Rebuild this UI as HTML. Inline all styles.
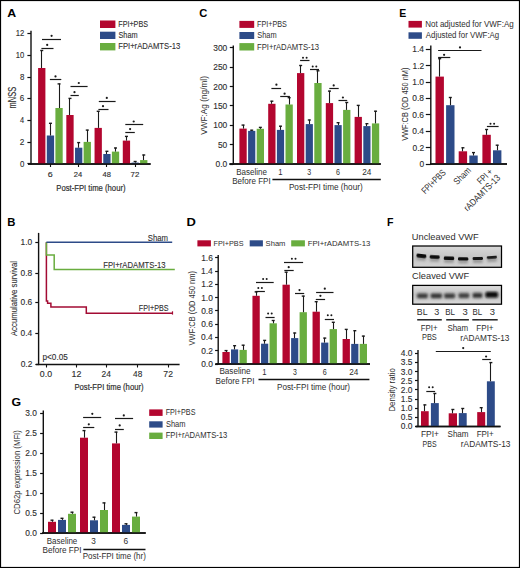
<!DOCTYPE html>
<html><head><meta charset="utf-8"><style>
html,body{margin:0;padding:0;background:#fff;}
svg{display:block;}
text{font-family:"Liberation Sans",sans-serif;}
</style></head><body>
<svg width="520" height="568" viewBox="0 0 520 568">
<rect x="0" y="0" width="520" height="568" fill="#fff"/>
<rect x="0.5" y="0.5" width="519" height="567" fill="none" stroke="#000" stroke-width="1.2"/>
<text x="7.18" y="16.80" font-size="11.0" font-weight="bold" fill="#000" textLength="8.90" lengthAdjust="spacingAndGlyphs">A</text>
<line x1="31.00" y1="30.70" x2="31.00" y2="164.60" stroke="#111111" stroke-width="1.4"/>
<line x1="27.40" y1="163.50" x2="31.00" y2="163.50" stroke="#111111" stroke-width="1.2"/>
<text x="19.88" y="166.50" font-size="8.6" stroke="#2e2e2e" stroke-width="0.12" fill="#2e2e2e" textLength="4.38" lengthAdjust="spacingAndGlyphs">0</text>
<line x1="27.40" y1="142.50" x2="31.00" y2="142.50" stroke="#111111" stroke-width="1.2"/>
<text x="19.76" y="144.80" font-size="8.6" stroke="#2e2e2e" stroke-width="0.12" fill="#2e2e2e" textLength="4.60" lengthAdjust="spacingAndGlyphs">2</text>
<line x1="27.40" y1="120.50" x2="31.00" y2="120.50" stroke="#111111" stroke-width="1.2"/>
<text x="20.06" y="123.10" font-size="8.6" stroke="#2e2e2e" stroke-width="0.12" fill="#2e2e2e" textLength="4.09" lengthAdjust="spacingAndGlyphs">4</text>
<line x1="27.40" y1="98.50" x2="31.00" y2="98.50" stroke="#111111" stroke-width="1.2"/>
<text x="19.77" y="101.40" font-size="8.6" stroke="#2e2e2e" stroke-width="0.12" fill="#2e2e2e" textLength="4.49" lengthAdjust="spacingAndGlyphs">6</text>
<line x1="27.40" y1="77.50" x2="31.00" y2="77.50" stroke="#111111" stroke-width="1.2"/>
<text x="19.88" y="79.70" font-size="8.6" stroke="#2e2e2e" stroke-width="0.12" fill="#2e2e2e" textLength="4.38" lengthAdjust="spacingAndGlyphs">8</text>
<line x1="27.40" y1="55.50" x2="31.00" y2="55.50" stroke="#111111" stroke-width="1.2"/>
<text x="15.77" y="58.00" font-size="8.6" stroke="#2e2e2e" stroke-width="0.12" fill="#2e2e2e" textLength="8.48" lengthAdjust="spacingAndGlyphs">10</text>
<line x1="27.40" y1="33.50" x2="31.00" y2="33.50" stroke="#111111" stroke-width="1.2"/>
<text x="15.76" y="36.30" font-size="8.6" stroke="#2e2e2e" stroke-width="0.12" fill="#2e2e2e" textLength="8.58" lengthAdjust="spacingAndGlyphs">12</text>
<line x1="28.00" y1="164.00" x2="150.60" y2="164.00" stroke="#111111" stroke-width="1.4"/>
<line x1="50.50" y1="164.00" x2="50.50" y2="167.00" stroke="#111111" stroke-width="1.1"/>
<line x1="78.50" y1="164.00" x2="78.50" y2="167.00" stroke="#111111" stroke-width="1.1"/>
<line x1="106.50" y1="164.00" x2="106.50" y2="167.00" stroke="#111111" stroke-width="1.1"/>
<line x1="135.50" y1="164.00" x2="135.50" y2="167.00" stroke="#111111" stroke-width="1.1"/>
<rect x="38.10" y="68.00" width="7.30" height="96.00" fill="#b3062f"/>
<line x1="41.50" y1="68.00" x2="41.50" y2="50.20" stroke="#1a1a1a" stroke-width="1.1"/>
<line x1="40.25" y1="50.50" x2="43.25" y2="50.50" stroke="#1a1a1a" stroke-width="1.4"/>
<rect x="46.80" y="135.50" width="7.30" height="28.50" fill="#2d4b88"/>
<line x1="50.50" y1="135.50" x2="50.50" y2="123.00" stroke="#1a1a1a" stroke-width="1.1"/>
<line x1="48.95" y1="123.30" x2="51.95" y2="123.30" stroke="#1a1a1a" stroke-width="1.4"/>
<rect x="55.40" y="108.00" width="7.30" height="56.00" fill="#69ad3f"/>
<line x1="59.50" y1="108.00" x2="59.50" y2="83.60" stroke="#1a1a1a" stroke-width="1.1"/>
<line x1="57.55" y1="83.90" x2="60.55" y2="83.90" stroke="#1a1a1a" stroke-width="1.4"/>
<rect x="66.33" y="115.00" width="7.30" height="49.00" fill="#b3062f"/>
<line x1="69.50" y1="115.00" x2="69.50" y2="98.10" stroke="#1a1a1a" stroke-width="1.1"/>
<line x1="68.48" y1="98.40" x2="71.48" y2="98.40" stroke="#1a1a1a" stroke-width="1.4"/>
<rect x="75.03" y="147.70" width="7.30" height="16.30" fill="#2d4b88"/>
<line x1="78.50" y1="147.70" x2="78.50" y2="142.30" stroke="#1a1a1a" stroke-width="1.1"/>
<line x1="77.18" y1="142.60" x2="80.18" y2="142.60" stroke="#1a1a1a" stroke-width="1.4"/>
<rect x="83.63" y="141.90" width="7.30" height="22.10" fill="#69ad3f"/>
<line x1="87.50" y1="141.90" x2="87.50" y2="129.80" stroke="#1a1a1a" stroke-width="1.1"/>
<line x1="85.78" y1="130.10" x2="88.78" y2="130.10" stroke="#1a1a1a" stroke-width="1.4"/>
<rect x="94.56" y="127.90" width="7.30" height="36.10" fill="#b3062f"/>
<line x1="98.50" y1="127.90" x2="98.50" y2="111.00" stroke="#1a1a1a" stroke-width="1.1"/>
<line x1="96.71" y1="111.30" x2="99.71" y2="111.30" stroke="#1a1a1a" stroke-width="1.4"/>
<rect x="103.26" y="154.00" width="7.30" height="10.00" fill="#2d4b88"/>
<line x1="106.50" y1="154.00" x2="106.50" y2="151.00" stroke="#1a1a1a" stroke-width="1.1"/>
<line x1="105.41" y1="151.30" x2="108.41" y2="151.30" stroke="#1a1a1a" stroke-width="1.4"/>
<rect x="111.86" y="151.60" width="7.30" height="12.40" fill="#69ad3f"/>
<line x1="115.50" y1="151.60" x2="115.50" y2="147.70" stroke="#1a1a1a" stroke-width="1.1"/>
<line x1="114.01" y1="148.00" x2="117.01" y2="148.00" stroke="#1a1a1a" stroke-width="1.4"/>
<rect x="122.79" y="140.60" width="7.30" height="23.40" fill="#b3062f"/>
<line x1="126.50" y1="140.60" x2="126.50" y2="136.10" stroke="#1a1a1a" stroke-width="1.1"/>
<line x1="124.94" y1="136.40" x2="127.94" y2="136.40" stroke="#1a1a1a" stroke-width="1.4"/>
<rect x="131.49" y="162.60" width="7.30" height="1.40" fill="#2d4b88"/>
<line x1="135.50" y1="162.60" x2="135.50" y2="161.20" stroke="#1a1a1a" stroke-width="1.1"/>
<line x1="133.64" y1="161.50" x2="136.64" y2="161.50" stroke="#1a1a1a" stroke-width="1.4"/>
<rect x="140.09" y="160.10" width="7.30" height="3.90" fill="#69ad3f"/>
<line x1="143.50" y1="160.10" x2="143.50" y2="154.70" stroke="#1a1a1a" stroke-width="1.1"/>
<line x1="142.24" y1="155.00" x2="145.24" y2="155.00" stroke="#1a1a1a" stroke-width="1.4"/>
<line x1="28.00" y1="164.00" x2="150.60" y2="164.00" stroke="#111111" stroke-width="1.4"/>
<line x1="41.40" y1="48.50" x2="53.50" y2="48.50" stroke="#1a1a1a" stroke-width="1.2"/>
<circle cx="47.20" cy="44.90" r="1.1" fill="#1a1a1a"/>
<line x1="42.00" y1="39.50" x2="61.00" y2="39.50" stroke="#1a1a1a" stroke-width="1.2"/>
<circle cx="51.60" cy="35.80" r="1.1" fill="#1a1a1a"/>
<line x1="49.90" y1="79.50" x2="61.30" y2="79.50" stroke="#1a1a1a" stroke-width="1.2"/>
<circle cx="55.50" cy="76.40" r="1.1" fill="#1a1a1a"/>
<line x1="70.50" y1="95.50" x2="78.80" y2="95.50" stroke="#1a1a1a" stroke-width="1.2"/>
<circle cx="74.50" cy="92.20" r="1.1" fill="#1a1a1a"/>
<line x1="70.50" y1="86.50" x2="87.60" y2="86.50" stroke="#1a1a1a" stroke-width="1.2"/>
<circle cx="78.80" cy="83.00" r="1.1" fill="#1a1a1a"/>
<line x1="98.40" y1="109.50" x2="108.50" y2="109.50" stroke="#1a1a1a" stroke-width="1.2"/>
<circle cx="103.00" cy="106.20" r="1.1" fill="#1a1a1a"/>
<line x1="98.80" y1="101.50" x2="115.60" y2="101.50" stroke="#1a1a1a" stroke-width="1.2"/>
<circle cx="106.80" cy="97.90" r="1.1" fill="#1a1a1a"/>
<line x1="125.30" y1="132.50" x2="134.80" y2="132.50" stroke="#1a1a1a" stroke-width="1.2"/>
<circle cx="130.10" cy="129.10" r="1.1" fill="#1a1a1a"/>
<line x1="125.30" y1="124.50" x2="143.20" y2="124.50" stroke="#1a1a1a" stroke-width="1.2"/>
<circle cx="133.70" cy="121.50" r="1.1" fill="#1a1a1a"/>
<text x="47.86" y="176.90" font-size="8.0" stroke="#2e2e2e" stroke-width="0.15" fill="#2e2e2e" textLength="4.93" lengthAdjust="spacingAndGlyphs">6</text>
<text x="73.82" y="176.90" font-size="8.0" stroke="#2e2e2e" stroke-width="0.15" fill="#2e2e2e" textLength="8.42" lengthAdjust="spacingAndGlyphs">24</text>
<text x="102.51" y="176.90" font-size="8.0" stroke="#2e2e2e" stroke-width="0.15" fill="#2e2e2e" textLength="8.33" lengthAdjust="spacingAndGlyphs">48</text>
<text x="130.61" y="176.90" font-size="8.0" stroke="#2e2e2e" stroke-width="0.15" fill="#2e2e2e" textLength="8.74" lengthAdjust="spacingAndGlyphs">72</text>
<text x="56.33" y="190.60" font-size="9.5" stroke="#2e2e2e" stroke-width="0.2" fill="#2e2e2e" textLength="69.22" lengthAdjust="spacingAndGlyphs">Post-FPI time (hour)</text>
<text transform="translate(16.20,108.00) rotate(-90)" x="-0.50" y="0" font-size="10.6" stroke="#2e2e2e" stroke-width="0.12" fill="#2e2e2e" textLength="21.73" lengthAdjust="spacingAndGlyphs">mNSS</text>
<rect x="100.00" y="20.50" width="15.40" height="7.50" fill="#b3062f"/>
<text x="118.24" y="27.00" font-size="9.0" stroke="#2e2e2e" stroke-width="0.1" fill="#2e2e2e" textLength="29.78" lengthAdjust="spacingAndGlyphs">FPI+PBS</text>
<rect x="100.00" y="31.70" width="15.40" height="7.30" fill="#2d4b88"/>
<text x="118.47" y="38.00" font-size="9.0" stroke="#2e2e2e" stroke-width="0.1" fill="#2e2e2e" textLength="19.13" lengthAdjust="spacingAndGlyphs">Sham</text>
<rect x="100.00" y="43.00" width="15.40" height="7.40" fill="#69ad3f"/>
<text x="118.20" y="49.40" font-size="9.0" stroke="#2e2e2e" stroke-width="0.1" fill="#2e2e2e" textLength="62.06" lengthAdjust="spacingAndGlyphs">FPI+rADAMTS-13</text>
<text x="7.18" y="225.70" font-size="11.0" font-weight="bold" fill="#000" textLength="8.18" lengthAdjust="spacingAndGlyphs">B</text>
<line x1="38.60" y1="232.90" x2="38.60" y2="365.10" stroke="#111111" stroke-width="1.4"/>
<line x1="35.30" y1="364.50" x2="38.60" y2="364.50" stroke="#111111" stroke-width="1.2"/>
<text x="20.69" y="366.70" font-size="8.4" stroke="#2e2e2e" stroke-width="0.12" fill="#2e2e2e" textLength="11.68" lengthAdjust="spacingAndGlyphs">0.2</text>
<line x1="35.30" y1="333.50" x2="38.60" y2="333.50" stroke="#111111" stroke-width="1.2"/>
<text x="20.49" y="336.20" font-size="8.4" stroke="#2e2e2e" stroke-width="0.12" fill="#2e2e2e" textLength="11.68" lengthAdjust="spacingAndGlyphs">0.4</text>
<line x1="35.30" y1="302.50" x2="38.60" y2="302.50" stroke="#111111" stroke-width="1.2"/>
<text x="20.59" y="305.30" font-size="8.4" stroke="#2e2e2e" stroke-width="0.12" fill="#2e2e2e" textLength="11.68" lengthAdjust="spacingAndGlyphs">0.6</text>
<line x1="35.30" y1="273.50" x2="38.60" y2="273.50" stroke="#111111" stroke-width="1.2"/>
<text x="20.59" y="275.70" font-size="8.4" stroke="#2e2e2e" stroke-width="0.12" fill="#2e2e2e" textLength="11.68" lengthAdjust="spacingAndGlyphs">0.8</text>
<line x1="35.30" y1="242.50" x2="38.60" y2="242.50" stroke="#111111" stroke-width="1.2"/>
<text x="20.59" y="244.70" font-size="8.4" stroke="#2e2e2e" stroke-width="0.12" fill="#2e2e2e" textLength="11.68" lengthAdjust="spacingAndGlyphs">1.0</text>
<line x1="36.00" y1="364.50" x2="179.60" y2="364.50" stroke="#111111" stroke-width="1.4"/>
<line x1="46.50" y1="364.50" x2="46.50" y2="367.50" stroke="#111111" stroke-width="1.1"/>
<line x1="76.50" y1="364.50" x2="76.50" y2="367.50" stroke="#111111" stroke-width="1.1"/>
<line x1="106.50" y1="364.50" x2="106.50" y2="367.50" stroke="#111111" stroke-width="1.1"/>
<line x1="137.50" y1="364.50" x2="137.50" y2="367.50" stroke="#111111" stroke-width="1.1"/>
<line x1="168.50" y1="364.50" x2="168.50" y2="367.50" stroke="#111111" stroke-width="1.1"/>
<text x="39.88" y="377.30" font-size="8.2" stroke="#2e2e2e" stroke-width="0.12" fill="#2e2e2e" textLength="12.20" lengthAdjust="spacingAndGlyphs">0.0</text>
<text x="71.55" y="377.30" font-size="8.2" stroke="#2e2e2e" stroke-width="0.12" fill="#2e2e2e" textLength="9.84" lengthAdjust="spacingAndGlyphs">12</text>
<text x="101.59" y="377.30" font-size="8.2" stroke="#2e2e2e" stroke-width="0.12" fill="#2e2e2e" textLength="9.38" lengthAdjust="spacingAndGlyphs">24</text>
<text x="133.10" y="377.30" font-size="8.2" stroke="#2e2e2e" stroke-width="0.12" fill="#2e2e2e" textLength="9.16" lengthAdjust="spacingAndGlyphs">48</text>
<text x="163.38" y="377.30" font-size="8.2" stroke="#2e2e2e" stroke-width="0.12" fill="#2e2e2e" textLength="9.60" lengthAdjust="spacingAndGlyphs">72</text>
<text x="74.43" y="390.10" font-size="9.5" stroke="#2e2e2e" stroke-width="0.2" fill="#2e2e2e" textLength="69.12" lengthAdjust="spacingAndGlyphs">Post-FPI time (hour)</text>
<text transform="translate(16.90,336.10) rotate(-90)" x="0.00" y="0" font-size="8.8" stroke="#2e2e2e" stroke-width="0.1" fill="#2e2e2e" textLength="75.09" lengthAdjust="spacingAndGlyphs">Accumulative survival</text>
<text x="42.51" y="360.20" font-size="8.3" stroke="#2e2e2e" stroke-width="0.1" fill="#2e2e2e" textLength="25.31" lengthAdjust="spacingAndGlyphs">p&lt;0.05</text>
<path d="M46.4,242.3 V301 H47.6 V303.2 H50.9 V306.9 H86.3 V313.2 H172.7" fill="none" stroke="#a30b33" stroke-width="1.5"/>
<line x1="172.50" y1="311.30" x2="172.50" y2="314.60" stroke="#a30b33" stroke-width="1.2"/>
<path d="M46.4,242.3 V255.1 H54.2 V269.6 H174.8" fill="none" stroke="#69ad3f" stroke-width="1.5"/>
<path d="M46.4,242.3 H172.2" fill="none" stroke="#2d4b88" stroke-width="1.5"/>
<text x="147.72" y="240.80" font-size="8.2" stroke="#2e2e2e" stroke-width="0.1" fill="#2e2e2e" textLength="20.29" lengthAdjust="spacingAndGlyphs">Sham</text>
<text x="103.24" y="268.00" font-size="8.2" stroke="#2e2e2e" stroke-width="0.1" fill="#2e2e2e" textLength="62.40" lengthAdjust="spacingAndGlyphs">FPI+rADAMTS-13</text>
<text x="138.77" y="310.60" font-size="8.2" stroke="#2e2e2e" stroke-width="0.1" fill="#2e2e2e" textLength="29.75" lengthAdjust="spacingAndGlyphs">FPI+PBS</text>
<text x="11.55" y="406.40" font-size="11.0" font-weight="bold" fill="#000" textLength="9.58" lengthAdjust="spacingAndGlyphs">G</text>
<line x1="43.30" y1="410.50" x2="43.30" y2="533.60" stroke="#111111" stroke-width="1.4"/>
<line x1="40.10" y1="533.50" x2="43.30" y2="533.50" stroke="#111111" stroke-width="1.2"/>
<text x="25.19" y="535.90" font-size="8.4" stroke="#2e2e2e" stroke-width="0.12" fill="#2e2e2e" textLength="11.68" lengthAdjust="spacingAndGlyphs">0.0</text>
<line x1="40.10" y1="513.50" x2="43.30" y2="513.50" stroke="#111111" stroke-width="1.2"/>
<text x="25.19" y="515.90" font-size="8.4" stroke="#2e2e2e" stroke-width="0.12" fill="#2e2e2e" textLength="11.68" lengthAdjust="spacingAndGlyphs">0.5</text>
<line x1="40.10" y1="493.50" x2="43.30" y2="493.50" stroke="#111111" stroke-width="1.2"/>
<text x="25.19" y="495.90" font-size="8.4" stroke="#2e2e2e" stroke-width="0.12" fill="#2e2e2e" textLength="11.68" lengthAdjust="spacingAndGlyphs">1.0</text>
<line x1="40.10" y1="473.50" x2="43.30" y2="473.50" stroke="#111111" stroke-width="1.2"/>
<text x="25.19" y="475.90" font-size="8.4" stroke="#2e2e2e" stroke-width="0.12" fill="#2e2e2e" textLength="11.68" lengthAdjust="spacingAndGlyphs">1.5</text>
<line x1="40.10" y1="453.50" x2="43.30" y2="453.50" stroke="#111111" stroke-width="1.2"/>
<text x="25.19" y="455.90" font-size="8.4" stroke="#2e2e2e" stroke-width="0.12" fill="#2e2e2e" textLength="11.68" lengthAdjust="spacingAndGlyphs">2.0</text>
<line x1="40.10" y1="433.50" x2="43.30" y2="433.50" stroke="#111111" stroke-width="1.2"/>
<text x="25.19" y="435.90" font-size="8.4" stroke="#2e2e2e" stroke-width="0.12" fill="#2e2e2e" textLength="11.68" lengthAdjust="spacingAndGlyphs">2.5</text>
<line x1="40.10" y1="413.50" x2="43.30" y2="413.50" stroke="#111111" stroke-width="1.2"/>
<text x="25.19" y="415.90" font-size="8.4" stroke="#2e2e2e" stroke-width="0.12" fill="#2e2e2e" textLength="11.68" lengthAdjust="spacingAndGlyphs">3.0</text>
<line x1="42.20" y1="533.00" x2="145.70" y2="533.00" stroke="#111111" stroke-width="1.4"/>
<rect x="48.00" y="521.80" width="8.00" height="11.20" fill="#b3062f"/>
<line x1="52.50" y1="521.80" x2="52.50" y2="519.90" stroke="#1a1a1a" stroke-width="1.1"/>
<line x1="50.50" y1="520.20" x2="53.50" y2="520.20" stroke="#1a1a1a" stroke-width="1.4"/>
<rect x="58.00" y="519.90" width="8.00" height="13.10" fill="#2d4b88"/>
<line x1="62.50" y1="519.90" x2="62.50" y2="518.00" stroke="#1a1a1a" stroke-width="1.1"/>
<line x1="60.50" y1="518.30" x2="63.50" y2="518.30" stroke="#1a1a1a" stroke-width="1.4"/>
<rect x="68.00" y="513.80" width="8.00" height="19.20" fill="#69ad3f"/>
<line x1="72.50" y1="513.80" x2="72.50" y2="511.90" stroke="#1a1a1a" stroke-width="1.1"/>
<line x1="70.50" y1="512.20" x2="73.50" y2="512.20" stroke="#1a1a1a" stroke-width="1.4"/>
<rect x="80.00" y="437.70" width="8.00" height="95.30" fill="#b3062f"/>
<line x1="84.50" y1="437.70" x2="84.50" y2="430.30" stroke="#1a1a1a" stroke-width="1.1"/>
<line x1="82.50" y1="430.60" x2="85.50" y2="430.60" stroke="#1a1a1a" stroke-width="1.4"/>
<rect x="90.00" y="520.30" width="8.00" height="12.70" fill="#2d4b88"/>
<line x1="94.50" y1="520.30" x2="94.50" y2="516.90" stroke="#1a1a1a" stroke-width="1.1"/>
<line x1="92.50" y1="517.20" x2="95.50" y2="517.20" stroke="#1a1a1a" stroke-width="1.4"/>
<rect x="100.00" y="510.00" width="8.00" height="23.00" fill="#69ad3f"/>
<line x1="104.50" y1="510.00" x2="104.50" y2="502.60" stroke="#1a1a1a" stroke-width="1.1"/>
<line x1="102.50" y1="502.90" x2="105.50" y2="502.90" stroke="#1a1a1a" stroke-width="1.4"/>
<rect x="112.00" y="443.40" width="8.00" height="89.60" fill="#b3062f"/>
<line x1="116.50" y1="443.40" x2="116.50" y2="431.80" stroke="#1a1a1a" stroke-width="1.1"/>
<line x1="114.50" y1="432.10" x2="117.50" y2="432.10" stroke="#1a1a1a" stroke-width="1.4"/>
<rect x="122.00" y="524.90" width="8.00" height="8.10" fill="#2d4b88"/>
<line x1="126.50" y1="524.90" x2="126.50" y2="523.50" stroke="#1a1a1a" stroke-width="1.1"/>
<line x1="124.50" y1="523.80" x2="127.50" y2="523.80" stroke="#1a1a1a" stroke-width="1.4"/>
<rect x="132.00" y="516.60" width="8.00" height="16.40" fill="#69ad3f"/>
<line x1="136.50" y1="516.60" x2="136.50" y2="512.30" stroke="#1a1a1a" stroke-width="1.1"/>
<line x1="134.50" y1="512.60" x2="137.50" y2="512.60" stroke="#1a1a1a" stroke-width="1.4"/>
<line x1="42.20" y1="533.00" x2="145.70" y2="533.00" stroke="#111111" stroke-width="1.4"/>
<line x1="83.10" y1="427.50" x2="94.30" y2="427.50" stroke="#1a1a1a" stroke-width="1.2"/>
<circle cx="88.80" cy="424.30" r="1.1" fill="#1a1a1a"/>
<line x1="83.10" y1="417.50" x2="101.20" y2="417.50" stroke="#1a1a1a" stroke-width="1.2"/>
<circle cx="92.30" cy="413.80" r="1.1" fill="#1a1a1a"/>
<line x1="115.00" y1="429.50" x2="123.80" y2="429.50" stroke="#1a1a1a" stroke-width="1.2"/>
<circle cx="119.70" cy="425.40" r="1.1" fill="#1a1a1a"/>
<line x1="115.00" y1="418.50" x2="133.10" y2="418.50" stroke="#1a1a1a" stroke-width="1.2"/>
<circle cx="123.80" cy="415.40" r="1.1" fill="#1a1a1a"/>
<text x="46.75" y="543.90" font-size="8.6" fill="#2e2e2e" textLength="30.51" lengthAdjust="spacingAndGlyphs">Baseline</text>
<text x="42.54" y="553.40" font-size="8.6" fill="#2e2e2e" textLength="39.01" lengthAdjust="spacingAndGlyphs">Before FPI</text>
<text x="91.31" y="543.60" font-size="8.6" fill="#2e2e2e" textLength="4.56" lengthAdjust="spacingAndGlyphs">3</text>
<text x="123.41" y="543.60" font-size="8.6" fill="#2e2e2e" textLength="4.67" lengthAdjust="spacingAndGlyphs">6</text>
<line x1="83.40" y1="549.50" x2="145.50" y2="549.50" stroke="#111111" stroke-width="1.3"/>
<text x="82.75" y="558.60" font-size="8.6" fill="#2e2e2e" textLength="63.08" lengthAdjust="spacingAndGlyphs">Post-FPI time (hr)</text>
<text transform="translate(20.20,514.20) rotate(-90)" x="-0.32" y="0" font-size="9.8" fill="#2e2e2e" textLength="84.36" lengthAdjust="spacingAndGlyphs">CD62p expression (MFI)</text>
<rect x="149.20" y="409.40" width="13.40" height="6.50" fill="#b3062f"/>
<text x="165.69" y="415.30" font-size="8.4" fill="#2e2e2e" textLength="29.77" lengthAdjust="spacingAndGlyphs">FPI+PBS</text>
<rect x="149.20" y="421.30" width="13.40" height="6.30" fill="#2d4b88"/>
<text x="165.93" y="427.00" font-size="8.4" fill="#2e2e2e" textLength="19.61" lengthAdjust="spacingAndGlyphs">Sham</text>
<rect x="149.20" y="432.60" width="13.40" height="6.40" fill="#69ad3f"/>
<text x="165.66" y="438.40" font-size="8.4" fill="#2e2e2e" textLength="61.59" lengthAdjust="spacingAndGlyphs">FPI+rADAMTS-13</text>
<text x="199.29" y="16.90" font-size="11.0" font-weight="bold" fill="#000" textLength="8.05" lengthAdjust="spacingAndGlyphs">C</text>
<line x1="233.30" y1="45.50" x2="233.30" y2="164.60" stroke="#111111" stroke-width="1.4"/>
<line x1="229.80" y1="164.50" x2="233.30" y2="164.50" stroke="#111111" stroke-width="1.2"/>
<text x="215.59" y="166.90" font-size="8.4" stroke="#2e2e2e" stroke-width="0.12" fill="#2e2e2e" textLength="11.68" lengthAdjust="spacingAndGlyphs">0.0</text>
<line x1="229.80" y1="144.50" x2="233.30" y2="144.50" stroke="#111111" stroke-width="1.2"/>
<text x="217.93" y="147.57" font-size="8.4" stroke="#2e2e2e" stroke-width="0.12" fill="#2e2e2e" textLength="9.34" lengthAdjust="spacingAndGlyphs">50</text>
<line x1="229.80" y1="125.50" x2="233.30" y2="125.50" stroke="#111111" stroke-width="1.2"/>
<text x="213.26" y="128.23" font-size="8.4" stroke="#2e2e2e" stroke-width="0.12" fill="#2e2e2e" textLength="14.02" lengthAdjust="spacingAndGlyphs">100</text>
<line x1="229.80" y1="105.50" x2="233.30" y2="105.50" stroke="#111111" stroke-width="1.2"/>
<text x="213.26" y="108.90" font-size="8.4" stroke="#2e2e2e" stroke-width="0.12" fill="#2e2e2e" textLength="14.02" lengthAdjust="spacingAndGlyphs">150</text>
<line x1="229.80" y1="86.50" x2="233.30" y2="86.50" stroke="#111111" stroke-width="1.2"/>
<text x="213.26" y="89.57" font-size="8.4" stroke="#2e2e2e" stroke-width="0.12" fill="#2e2e2e" textLength="14.02" lengthAdjust="spacingAndGlyphs">200</text>
<line x1="229.80" y1="67.50" x2="233.30" y2="67.50" stroke="#111111" stroke-width="1.2"/>
<text x="213.26" y="70.23" font-size="8.4" stroke="#2e2e2e" stroke-width="0.12" fill="#2e2e2e" textLength="14.02" lengthAdjust="spacingAndGlyphs">250</text>
<line x1="229.80" y1="47.50" x2="233.30" y2="47.50" stroke="#111111" stroke-width="1.2"/>
<text x="213.26" y="50.90" font-size="8.4" stroke="#2e2e2e" stroke-width="0.12" fill="#2e2e2e" textLength="14.02" lengthAdjust="spacingAndGlyphs">300</text>
<line x1="229.50" y1="164.00" x2="380.80" y2="164.00" stroke="#111111" stroke-width="1.4"/>
<rect x="239.40" y="128.60" width="7.30" height="35.40" fill="#b3062f"/>
<line x1="243.50" y1="128.60" x2="243.50" y2="124.80" stroke="#1a1a1a" stroke-width="1.1"/>
<line x1="241.55" y1="125.10" x2="244.55" y2="125.10" stroke="#1a1a1a" stroke-width="1.4"/>
<rect x="248.10" y="130.90" width="7.20" height="33.10" fill="#2d4b88"/>
<line x1="251.50" y1="130.90" x2="251.50" y2="129.90" stroke="#1a1a1a" stroke-width="1.1"/>
<line x1="250.20" y1="130.20" x2="253.20" y2="130.20" stroke="#1a1a1a" stroke-width="1.4"/>
<rect x="256.70" y="128.80" width="7.30" height="35.20" fill="#69ad3f"/>
<line x1="260.50" y1="128.80" x2="260.50" y2="127.10" stroke="#1a1a1a" stroke-width="1.1"/>
<line x1="258.85" y1="127.40" x2="261.85" y2="127.40" stroke="#1a1a1a" stroke-width="1.4"/>
<rect x="268.20" y="103.80" width="7.30" height="60.20" fill="#b3062f"/>
<line x1="271.50" y1="103.80" x2="271.50" y2="100.90" stroke="#1a1a1a" stroke-width="1.1"/>
<line x1="270.35" y1="101.20" x2="273.35" y2="101.20" stroke="#1a1a1a" stroke-width="1.4"/>
<rect x="276.90" y="129.90" width="7.20" height="34.10" fill="#2d4b88"/>
<line x1="280.50" y1="129.90" x2="280.50" y2="125.90" stroke="#1a1a1a" stroke-width="1.1"/>
<line x1="279.00" y1="126.20" x2="282.00" y2="126.20" stroke="#1a1a1a" stroke-width="1.4"/>
<rect x="285.50" y="104.50" width="7.30" height="59.50" fill="#69ad3f"/>
<line x1="289.50" y1="104.50" x2="289.50" y2="97.40" stroke="#1a1a1a" stroke-width="1.1"/>
<line x1="287.65" y1="97.70" x2="290.65" y2="97.70" stroke="#1a1a1a" stroke-width="1.4"/>
<rect x="297.00" y="73.10" width="7.30" height="90.90" fill="#b3062f"/>
<line x1="300.50" y1="73.10" x2="300.50" y2="65.20" stroke="#1a1a1a" stroke-width="1.1"/>
<line x1="299.15" y1="65.50" x2="302.15" y2="65.50" stroke="#1a1a1a" stroke-width="1.4"/>
<rect x="305.70" y="124.10" width="7.20" height="39.90" fill="#2d4b88"/>
<line x1="309.50" y1="124.10" x2="309.50" y2="119.70" stroke="#1a1a1a" stroke-width="1.1"/>
<line x1="307.80" y1="120.00" x2="310.80" y2="120.00" stroke="#1a1a1a" stroke-width="1.4"/>
<rect x="314.30" y="83.00" width="7.30" height="81.00" fill="#69ad3f"/>
<line x1="317.50" y1="83.00" x2="317.50" y2="70.50" stroke="#1a1a1a" stroke-width="1.1"/>
<line x1="316.45" y1="70.80" x2="319.45" y2="70.80" stroke="#1a1a1a" stroke-width="1.4"/>
<rect x="325.80" y="103.10" width="7.30" height="60.90" fill="#b3062f"/>
<line x1="329.50" y1="103.10" x2="329.50" y2="90.80" stroke="#1a1a1a" stroke-width="1.1"/>
<line x1="327.95" y1="91.10" x2="330.95" y2="91.10" stroke="#1a1a1a" stroke-width="1.4"/>
<rect x="334.50" y="125.10" width="7.20" height="38.90" fill="#2d4b88"/>
<line x1="338.50" y1="125.10" x2="338.50" y2="122.40" stroke="#1a1a1a" stroke-width="1.1"/>
<line x1="336.60" y1="122.70" x2="339.60" y2="122.70" stroke="#1a1a1a" stroke-width="1.4"/>
<rect x="343.10" y="109.90" width="7.30" height="54.10" fill="#69ad3f"/>
<line x1="346.50" y1="109.90" x2="346.50" y2="102.20" stroke="#1a1a1a" stroke-width="1.1"/>
<line x1="345.25" y1="102.50" x2="348.25" y2="102.50" stroke="#1a1a1a" stroke-width="1.4"/>
<rect x="354.60" y="116.90" width="7.30" height="47.10" fill="#b3062f"/>
<line x1="358.50" y1="116.90" x2="358.50" y2="105.10" stroke="#1a1a1a" stroke-width="1.1"/>
<line x1="356.75" y1="105.40" x2="359.75" y2="105.40" stroke="#1a1a1a" stroke-width="1.4"/>
<rect x="363.30" y="126.10" width="7.20" height="37.90" fill="#2d4b88"/>
<line x1="366.50" y1="126.10" x2="366.50" y2="123.40" stroke="#1a1a1a" stroke-width="1.1"/>
<line x1="365.40" y1="123.70" x2="368.40" y2="123.70" stroke="#1a1a1a" stroke-width="1.4"/>
<rect x="371.90" y="123.40" width="7.30" height="40.60" fill="#69ad3f"/>
<line x1="375.50" y1="123.40" x2="375.50" y2="110.90" stroke="#1a1a1a" stroke-width="1.1"/>
<line x1="374.05" y1="111.20" x2="377.05" y2="111.20" stroke="#1a1a1a" stroke-width="1.4"/>
<line x1="229.50" y1="164.00" x2="380.80" y2="164.00" stroke="#111111" stroke-width="1.4"/>
<line x1="271.40" y1="88.50" x2="281.10" y2="88.50" stroke="#1a1a1a" stroke-width="1.2"/>
<circle cx="276.40" cy="84.70" r="1.1" fill="#1a1a1a"/>
<line x1="280.20" y1="96.50" x2="289.90" y2="96.50" stroke="#1a1a1a" stroke-width="1.2"/>
<circle cx="284.60" cy="93.70" r="1.1" fill="#1a1a1a"/>
<line x1="300.10" y1="60.50" x2="309.50" y2="60.50" stroke="#1a1a1a" stroke-width="1.2"/>
<circle cx="303.00" cy="57.80" r="1.0" fill="#1a1a1a"/>
<circle cx="306.60" cy="57.80" r="1.0" fill="#1a1a1a"/>
<line x1="310.00" y1="69.50" x2="319.00" y2="69.50" stroke="#1a1a1a" stroke-width="1.2"/>
<circle cx="312.70" cy="66.40" r="1.0" fill="#1a1a1a"/>
<circle cx="316.30" cy="66.40" r="1.0" fill="#1a1a1a"/>
<line x1="329.30" y1="88.50" x2="338.70" y2="88.50" stroke="#1a1a1a" stroke-width="1.2"/>
<circle cx="333.70" cy="85.40" r="1.1" fill="#1a1a1a"/>
<line x1="338.50" y1="100.50" x2="347.20" y2="100.50" stroke="#1a1a1a" stroke-width="1.2"/>
<circle cx="342.90" cy="97.50" r="1.1" fill="#1a1a1a"/>
<text x="236.23" y="174.70" font-size="8.4" fill="#2e2e2e" textLength="30.83" lengthAdjust="spacingAndGlyphs">Baseline</text>
<text x="232.22" y="184.20" font-size="8.4" fill="#2e2e2e" textLength="38.48" lengthAdjust="spacingAndGlyphs">Before FPI</text>
<text x="278.25" y="174.60" font-size="8.4" fill="#2e2e2e" textLength="4.29" lengthAdjust="spacingAndGlyphs">1</text>
<text x="307.35" y="174.60" font-size="8.4" fill="#2e2e2e" textLength="3.87" lengthAdjust="spacingAndGlyphs">3</text>
<text x="336.06" y="174.60" font-size="8.4" fill="#2e2e2e" textLength="3.97" lengthAdjust="spacingAndGlyphs">6</text>
<text x="362.21" y="174.60" font-size="8.4" fill="#2e2e2e" textLength="9.16" lengthAdjust="spacingAndGlyphs">24</text>
<line x1="272.40" y1="179.50" x2="380.80" y2="179.50" stroke="#111111" stroke-width="1.3"/>
<text x="288.91" y="190.00" font-size="8.4" fill="#2e2e2e" textLength="73.77" lengthAdjust="spacingAndGlyphs">Post-FPI time (hour)</text>
<text transform="translate(206.60,134.80) rotate(-90)" x="0.00" y="0" font-size="8.2" fill="#2e2e2e" textLength="58.73" lengthAdjust="spacingAndGlyphs">VWF:Ag (ng/ml)</text>
<rect x="239.40" y="20.90" width="14.80" height="7.00" fill="#b3062f"/>
<text x="256.98" y="26.90" font-size="8.4" fill="#2e2e2e" textLength="29.88" lengthAdjust="spacingAndGlyphs">FPI+PBS</text>
<rect x="239.40" y="32.00" width="14.80" height="7.00" fill="#2d4b88"/>
<text x="257.23" y="38.00" font-size="8.4" fill="#2e2e2e" textLength="19.41" lengthAdjust="spacingAndGlyphs">Sham</text>
<rect x="239.40" y="43.10" width="14.80" height="7.40" fill="#69ad3f"/>
<text x="256.95" y="49.50" font-size="8.4" fill="#2e2e2e" textLength="62.20" lengthAdjust="spacingAndGlyphs">FPI+rADAMTS-13</text>
<text x="186.48" y="226.00" font-size="11.0" font-weight="bold" fill="#000" textLength="9.35" lengthAdjust="spacingAndGlyphs">D</text>
<line x1="218.20" y1="255.00" x2="218.20" y2="364.60" stroke="#111111" stroke-width="1.4"/>
<line x1="215.10" y1="364.50" x2="218.20" y2="364.50" stroke="#111111" stroke-width="1.2"/>
<text x="201.19" y="366.90" font-size="8.4" stroke="#2e2e2e" stroke-width="0.12" fill="#2e2e2e" textLength="11.68" lengthAdjust="spacingAndGlyphs">0.0</text>
<line x1="215.10" y1="350.50" x2="218.20" y2="350.50" stroke="#111111" stroke-width="1.2"/>
<text x="201.29" y="353.62" font-size="8.4" stroke="#2e2e2e" stroke-width="0.12" fill="#2e2e2e" textLength="11.68" lengthAdjust="spacingAndGlyphs">0.2</text>
<line x1="215.10" y1="337.50" x2="218.20" y2="337.50" stroke="#111111" stroke-width="1.2"/>
<text x="201.09" y="340.34" font-size="8.4" stroke="#2e2e2e" stroke-width="0.12" fill="#2e2e2e" textLength="11.68" lengthAdjust="spacingAndGlyphs">0.4</text>
<line x1="215.10" y1="324.50" x2="218.20" y2="324.50" stroke="#111111" stroke-width="1.2"/>
<text x="201.19" y="327.06" font-size="8.4" stroke="#2e2e2e" stroke-width="0.12" fill="#2e2e2e" textLength="11.68" lengthAdjust="spacingAndGlyphs">0.6</text>
<line x1="215.10" y1="310.50" x2="218.20" y2="310.50" stroke="#111111" stroke-width="1.2"/>
<text x="201.19" y="313.78" font-size="8.4" stroke="#2e2e2e" stroke-width="0.12" fill="#2e2e2e" textLength="11.68" lengthAdjust="spacingAndGlyphs">0.8</text>
<line x1="215.10" y1="297.50" x2="218.20" y2="297.50" stroke="#111111" stroke-width="1.2"/>
<text x="201.19" y="300.50" font-size="8.4" stroke="#2e2e2e" stroke-width="0.12" fill="#2e2e2e" textLength="11.68" lengthAdjust="spacingAndGlyphs">1.0</text>
<line x1="215.10" y1="284.50" x2="218.20" y2="284.50" stroke="#111111" stroke-width="1.2"/>
<text x="201.29" y="287.22" font-size="8.4" stroke="#2e2e2e" stroke-width="0.12" fill="#2e2e2e" textLength="11.68" lengthAdjust="spacingAndGlyphs">1.2</text>
<line x1="215.10" y1="271.50" x2="218.20" y2="271.50" stroke="#111111" stroke-width="1.2"/>
<text x="201.09" y="273.94" font-size="8.4" stroke="#2e2e2e" stroke-width="0.12" fill="#2e2e2e" textLength="11.68" lengthAdjust="spacingAndGlyphs">1.4</text>
<line x1="215.10" y1="257.50" x2="218.20" y2="257.50" stroke="#111111" stroke-width="1.2"/>
<text x="201.19" y="260.66" font-size="8.4" stroke="#2e2e2e" stroke-width="0.12" fill="#2e2e2e" textLength="11.68" lengthAdjust="spacingAndGlyphs">1.6</text>
<line x1="215.40" y1="364.00" x2="370.00" y2="364.00" stroke="#111111" stroke-width="1.4"/>
<rect x="222.40" y="352.00" width="7.30" height="12.00" fill="#b3062f"/>
<line x1="226.50" y1="352.00" x2="226.50" y2="350.30" stroke="#1a1a1a" stroke-width="1.1"/>
<line x1="224.55" y1="350.60" x2="227.55" y2="350.60" stroke="#1a1a1a" stroke-width="1.4"/>
<rect x="231.00" y="349.40" width="7.20" height="14.60" fill="#2d4b88"/>
<line x1="234.50" y1="349.40" x2="234.50" y2="345.40" stroke="#1a1a1a" stroke-width="1.1"/>
<line x1="233.10" y1="345.70" x2="236.10" y2="345.70" stroke="#1a1a1a" stroke-width="1.4"/>
<rect x="239.50" y="349.90" width="7.30" height="14.10" fill="#69ad3f"/>
<line x1="243.50" y1="349.90" x2="243.50" y2="344.90" stroke="#1a1a1a" stroke-width="1.1"/>
<line x1="241.65" y1="345.20" x2="244.65" y2="345.20" stroke="#1a1a1a" stroke-width="1.4"/>
<rect x="252.45" y="295.80" width="7.30" height="68.20" fill="#b3062f"/>
<line x1="256.50" y1="295.80" x2="256.50" y2="291.60" stroke="#1a1a1a" stroke-width="1.1"/>
<line x1="254.60" y1="291.90" x2="257.60" y2="291.90" stroke="#1a1a1a" stroke-width="1.4"/>
<rect x="261.05" y="343.70" width="7.20" height="20.30" fill="#2d4b88"/>
<line x1="264.50" y1="343.70" x2="264.50" y2="340.10" stroke="#1a1a1a" stroke-width="1.1"/>
<line x1="263.15" y1="340.40" x2="266.15" y2="340.40" stroke="#1a1a1a" stroke-width="1.4"/>
<rect x="269.55" y="323.30" width="7.30" height="40.70" fill="#69ad3f"/>
<line x1="273.50" y1="323.30" x2="273.50" y2="320.20" stroke="#1a1a1a" stroke-width="1.1"/>
<line x1="271.70" y1="320.50" x2="274.70" y2="320.50" stroke="#1a1a1a" stroke-width="1.4"/>
<rect x="282.50" y="284.70" width="7.30" height="79.30" fill="#b3062f"/>
<line x1="286.50" y1="284.70" x2="286.50" y2="271.90" stroke="#1a1a1a" stroke-width="1.1"/>
<line x1="284.65" y1="272.20" x2="287.65" y2="272.20" stroke="#1a1a1a" stroke-width="1.4"/>
<rect x="291.10" y="338.10" width="7.20" height="25.90" fill="#2d4b88"/>
<line x1="294.50" y1="338.10" x2="294.50" y2="332.70" stroke="#1a1a1a" stroke-width="1.1"/>
<line x1="293.20" y1="333.00" x2="296.20" y2="333.00" stroke="#1a1a1a" stroke-width="1.4"/>
<rect x="299.60" y="312.20" width="7.30" height="51.80" fill="#69ad3f"/>
<line x1="303.50" y1="312.20" x2="303.50" y2="295.80" stroke="#1a1a1a" stroke-width="1.1"/>
<line x1="301.75" y1="296.10" x2="304.75" y2="296.10" stroke="#1a1a1a" stroke-width="1.4"/>
<rect x="312.55" y="311.70" width="7.30" height="52.30" fill="#b3062f"/>
<line x1="316.50" y1="311.70" x2="316.50" y2="301.40" stroke="#1a1a1a" stroke-width="1.1"/>
<line x1="314.70" y1="301.70" x2="317.70" y2="301.70" stroke="#1a1a1a" stroke-width="1.4"/>
<rect x="321.15" y="342.60" width="7.20" height="21.40" fill="#2d4b88"/>
<line x1="324.50" y1="342.60" x2="324.50" y2="337.80" stroke="#1a1a1a" stroke-width="1.1"/>
<line x1="323.25" y1="338.10" x2="326.25" y2="338.10" stroke="#1a1a1a" stroke-width="1.4"/>
<rect x="329.65" y="329.10" width="7.30" height="34.90" fill="#69ad3f"/>
<line x1="333.50" y1="329.10" x2="333.50" y2="322.00" stroke="#1a1a1a" stroke-width="1.1"/>
<line x1="331.80" y1="322.30" x2="334.80" y2="322.30" stroke="#1a1a1a" stroke-width="1.4"/>
<rect x="342.60" y="339.00" width="7.30" height="25.00" fill="#b3062f"/>
<line x1="346.50" y1="339.00" x2="346.50" y2="329.10" stroke="#1a1a1a" stroke-width="1.1"/>
<line x1="344.75" y1="329.40" x2="347.75" y2="329.40" stroke="#1a1a1a" stroke-width="1.4"/>
<rect x="351.20" y="343.90" width="7.20" height="20.10" fill="#2d4b88"/>
<line x1="354.50" y1="343.90" x2="354.50" y2="330.40" stroke="#1a1a1a" stroke-width="1.1"/>
<line x1="353.30" y1="330.70" x2="356.30" y2="330.70" stroke="#1a1a1a" stroke-width="1.4"/>
<rect x="359.70" y="343.90" width="7.30" height="20.10" fill="#69ad3f"/>
<line x1="363.50" y1="343.90" x2="363.50" y2="335.80" stroke="#1a1a1a" stroke-width="1.1"/>
<line x1="361.85" y1="336.10" x2="364.85" y2="336.10" stroke="#1a1a1a" stroke-width="1.4"/>
<line x1="215.40" y1="364.00" x2="370.00" y2="364.00" stroke="#111111" stroke-width="1.4"/>
<line x1="256.00" y1="282.50" x2="273.70" y2="282.50" stroke="#1a1a1a" stroke-width="1.2"/>
<circle cx="263.10" cy="278.90" r="1.0" fill="#1a1a1a"/>
<circle cx="266.70" cy="278.90" r="1.0" fill="#1a1a1a"/>
<line x1="255.50" y1="291.50" x2="264.90" y2="291.50" stroke="#1a1a1a" stroke-width="1.2"/>
<circle cx="258.30" cy="288.00" r="1.0" fill="#1a1a1a"/>
<circle cx="261.90" cy="288.00" r="1.0" fill="#1a1a1a"/>
<line x1="265.50" y1="317.50" x2="274.60" y2="317.50" stroke="#1a1a1a" stroke-width="1.2"/>
<circle cx="268.10" cy="313.50" r="1.0" fill="#1a1a1a"/>
<circle cx="271.70" cy="313.50" r="1.0" fill="#1a1a1a"/>
<line x1="284.00" y1="262.50" x2="303.10" y2="262.50" stroke="#1a1a1a" stroke-width="1.2"/>
<circle cx="291.90" cy="258.70" r="1.0" fill="#1a1a1a"/>
<circle cx="295.50" cy="258.70" r="1.0" fill="#1a1a1a"/>
<line x1="284.30" y1="270.50" x2="293.70" y2="270.50" stroke="#1a1a1a" stroke-width="1.2"/>
<circle cx="288.70" cy="267.20" r="1.1" fill="#1a1a1a"/>
<line x1="295.00" y1="293.50" x2="304.20" y2="293.50" stroke="#1a1a1a" stroke-width="1.2"/>
<circle cx="299.50" cy="290.10" r="1.1" fill="#1a1a1a"/>
<line x1="316.10" y1="292.50" x2="333.50" y2="292.50" stroke="#1a1a1a" stroke-width="1.2"/>
<circle cx="324.80" cy="288.70" r="1.1" fill="#1a1a1a"/>
<line x1="315.80" y1="299.50" x2="325.10" y2="299.50" stroke="#1a1a1a" stroke-width="1.2"/>
<circle cx="320.40" cy="295.80" r="1.1" fill="#1a1a1a"/>
<line x1="324.80" y1="319.50" x2="334.00" y2="319.50" stroke="#1a1a1a" stroke-width="1.2"/>
<circle cx="327.80" cy="315.30" r="1.0" fill="#1a1a1a"/>
<circle cx="331.40" cy="315.30" r="1.0" fill="#1a1a1a"/>
<text x="219.42" y="374.30" font-size="8.4" fill="#2e2e2e" textLength="31.24" lengthAdjust="spacingAndGlyphs">Baseline</text>
<text x="215.62" y="383.80" font-size="8.4" fill="#2e2e2e" textLength="38.89" lengthAdjust="spacingAndGlyphs">Before FPI</text>
<text x="262.35" y="374.50" font-size="8.4" fill="#2e2e2e" textLength="4.29" lengthAdjust="spacingAndGlyphs">1</text>
<text x="293.05" y="374.50" font-size="8.4" fill="#2e2e2e" textLength="3.87" lengthAdjust="spacingAndGlyphs">3</text>
<text x="322.76" y="374.50" font-size="8.4" fill="#2e2e2e" textLength="3.97" lengthAdjust="spacingAndGlyphs">6</text>
<text x="349.31" y="374.50" font-size="8.4" fill="#2e2e2e" textLength="9.16" lengthAdjust="spacingAndGlyphs">24</text>
<line x1="258.50" y1="379.50" x2="369.40" y2="379.50" stroke="#111111" stroke-width="1.3"/>
<text x="277.12" y="390.00" font-size="8.4" fill="#2e2e2e" textLength="72.96" lengthAdjust="spacingAndGlyphs">Post-FPI time (hour)</text>
<text transform="translate(195.00,345.40) rotate(-90)" x="0.00" y="0" font-size="8.6" fill="#2e2e2e" textLength="74.40" lengthAdjust="spacingAndGlyphs">VWF:CB (OD 450 nm)</text>
<rect x="197.40" y="240.30" width="13.50" height="6.10" fill="#b3062f"/>
<text x="213.46" y="245.70" font-size="8.0" fill="#2e2e2e" textLength="30.05" lengthAdjust="spacingAndGlyphs">FPI+PBS</text>
<rect x="249.70" y="240.30" width="13.20" height="6.10" fill="#2d4b88"/>
<text x="265.62" y="245.70" font-size="8.0" fill="#2e2e2e" textLength="19.82" lengthAdjust="spacingAndGlyphs">Sham</text>
<rect x="291.20" y="240.30" width="13.70" height="6.10" fill="#69ad3f"/>
<text x="307.72" y="245.70" font-size="8.0" fill="#2e2e2e" textLength="62.52" lengthAdjust="spacingAndGlyphs">FPI+rADAMTS-13</text>
<text x="399.33" y="16.80" font-size="11.0" font-weight="bold" fill="#000" textLength="6.99" lengthAdjust="spacingAndGlyphs">E</text>
<line x1="430.80" y1="45.60" x2="430.80" y2="164.60" stroke="#111111" stroke-width="1.4"/>
<line x1="425.80" y1="164.50" x2="430.80" y2="164.50" stroke="#111111" stroke-width="1.2"/>
<text x="419.40" y="166.90" font-size="8.4" stroke="#2e2e2e" stroke-width="0.12" fill="#2e2e2e" textLength="4.67" lengthAdjust="spacingAndGlyphs">0</text>
<line x1="425.80" y1="147.50" x2="430.80" y2="147.50" stroke="#111111" stroke-width="1.2"/>
<text x="412.49" y="150.50" font-size="8.4" stroke="#2e2e2e" stroke-width="0.12" fill="#2e2e2e" textLength="11.68" lengthAdjust="spacingAndGlyphs">0.2</text>
<line x1="425.80" y1="131.50" x2="430.80" y2="131.50" stroke="#111111" stroke-width="1.2"/>
<text x="412.29" y="134.10" font-size="8.4" stroke="#2e2e2e" stroke-width="0.12" fill="#2e2e2e" textLength="11.68" lengthAdjust="spacingAndGlyphs">0.4</text>
<line x1="425.80" y1="114.50" x2="430.80" y2="114.50" stroke="#111111" stroke-width="1.2"/>
<text x="412.39" y="117.70" font-size="8.4" stroke="#2e2e2e" stroke-width="0.12" fill="#2e2e2e" textLength="11.68" lengthAdjust="spacingAndGlyphs">0.6</text>
<line x1="425.80" y1="98.50" x2="430.80" y2="98.50" stroke="#111111" stroke-width="1.2"/>
<text x="412.39" y="101.30" font-size="8.4" stroke="#2e2e2e" stroke-width="0.12" fill="#2e2e2e" textLength="11.68" lengthAdjust="spacingAndGlyphs">0.8</text>
<line x1="425.80" y1="82.50" x2="430.80" y2="82.50" stroke="#111111" stroke-width="1.2"/>
<text x="412.39" y="84.90" font-size="8.4" stroke="#2e2e2e" stroke-width="0.12" fill="#2e2e2e" textLength="11.68" lengthAdjust="spacingAndGlyphs">1.0</text>
<line x1="425.80" y1="65.50" x2="430.80" y2="65.50" stroke="#111111" stroke-width="1.2"/>
<text x="412.49" y="68.50" font-size="8.4" stroke="#2e2e2e" stroke-width="0.12" fill="#2e2e2e" textLength="11.68" lengthAdjust="spacingAndGlyphs">1.2</text>
<line x1="425.80" y1="49.50" x2="430.80" y2="49.50" stroke="#111111" stroke-width="1.2"/>
<text x="412.29" y="52.10" font-size="8.4" stroke="#2e2e2e" stroke-width="0.12" fill="#2e2e2e" textLength="11.68" lengthAdjust="spacingAndGlyphs">1.4</text>
<line x1="430.00" y1="164.00" x2="507.00" y2="164.00" stroke="#111111" stroke-width="1.4"/>
<rect x="435.50" y="76.60" width="8.40" height="87.40" fill="#b3062f"/>
<line x1="439.50" y1="76.60" x2="439.50" y2="58.40" stroke="#1a1a1a" stroke-width="1.1"/>
<line x1="438.20" y1="58.70" x2="441.20" y2="58.70" stroke="#1a1a1a" stroke-width="1.4"/>
<rect x="446.10" y="105.20" width="8.40" height="58.80" fill="#2d4b88"/>
<line x1="450.50" y1="105.20" x2="450.50" y2="97.20" stroke="#1a1a1a" stroke-width="1.1"/>
<line x1="448.80" y1="97.50" x2="451.80" y2="97.50" stroke="#1a1a1a" stroke-width="1.4"/>
<rect x="458.70" y="151.30" width="8.40" height="12.70" fill="#b3062f"/>
<line x1="462.50" y1="151.30" x2="462.50" y2="147.50" stroke="#1a1a1a" stroke-width="1.1"/>
<line x1="461.40" y1="147.80" x2="464.40" y2="147.80" stroke="#1a1a1a" stroke-width="1.4"/>
<rect x="469.30" y="155.50" width="8.40" height="8.50" fill="#2d4b88"/>
<line x1="473.50" y1="155.50" x2="473.50" y2="152.30" stroke="#1a1a1a" stroke-width="1.1"/>
<line x1="472.00" y1="152.60" x2="475.00" y2="152.60" stroke="#1a1a1a" stroke-width="1.4"/>
<rect x="482.40" y="134.80" width="8.40" height="29.20" fill="#b3062f"/>
<line x1="486.50" y1="134.80" x2="486.50" y2="129.20" stroke="#1a1a1a" stroke-width="1.1"/>
<line x1="485.10" y1="129.50" x2="488.10" y2="129.50" stroke="#1a1a1a" stroke-width="1.4"/>
<rect x="493.00" y="150.30" width="8.40" height="13.70" fill="#2d4b88"/>
<line x1="497.50" y1="150.30" x2="497.50" y2="144.90" stroke="#1a1a1a" stroke-width="1.1"/>
<line x1="495.70" y1="145.20" x2="498.70" y2="145.20" stroke="#1a1a1a" stroke-width="1.4"/>
<line x1="430.00" y1="164.00" x2="507.00" y2="164.00" stroke="#111111" stroke-width="1.4"/>
<line x1="438.10" y1="50.50" x2="481.50" y2="50.50" stroke="#1a1a1a" stroke-width="1.2"/>
<circle cx="460.00" cy="47.40" r="1.1" fill="#1a1a1a"/>
<line x1="438.10" y1="57.50" x2="450.30" y2="57.50" stroke="#1a1a1a" stroke-width="1.2"/>
<circle cx="444.10" cy="54.80" r="1.1" fill="#1a1a1a"/>
<line x1="486.90" y1="126.50" x2="498.60" y2="126.50" stroke="#1a1a1a" stroke-width="1.2"/>
<circle cx="490.50" cy="123.80" r="1.0" fill="#1a1a1a"/>
<circle cx="494.10" cy="123.80" r="1.0" fill="#1a1a1a"/>
<text transform="translate(407.90,140.80) rotate(-90)" x="0.00" y="0" font-size="8.8" fill="#2e2e2e" textLength="73.24" lengthAdjust="spacingAndGlyphs">VWF:CB (OD 450 nM)</text>
<rect x="408.50" y="20.90" width="13.40" height="6.70" fill="#b3062f"/>
<text x="425.23" y="26.90" font-size="8.4" fill="#2e2e2e" textLength="88.52" lengthAdjust="spacingAndGlyphs">Not adjusted for VWF:Ag</text>
<rect x="408.50" y="32.30" width="13.40" height="6.50" fill="#2d4b88"/>
<text x="425.80" y="38.10" font-size="8.4" fill="#2e2e2e" textLength="73.44" lengthAdjust="spacingAndGlyphs">Adjusted for VWF:Ag</text>
<text transform="translate(446.10,173.60) rotate(-45)" x="-29.54" y="0" font-size="9.4" fill="#2e2e2e" textLength="29.82" lengthAdjust="spacingAndGlyphs">FPI+PBS</text>
<text transform="translate(471.20,171.20) rotate(-45)" x="-19.73" y="0" font-size="9.4" fill="#2e2e2e" textLength="20.16" lengthAdjust="spacingAndGlyphs">Sham</text>
<text transform="translate(493.10,172.60) rotate(-45)" x="-17.34" y="0" font-size="9.4" fill="#2e2e2e" textLength="17.65" lengthAdjust="spacingAndGlyphs">FPI +</text>
<text transform="translate(500.80,178.60) rotate(-45)" x="-47.01" y="0" font-size="9.4" fill="#2e2e2e" textLength="47.29" lengthAdjust="spacingAndGlyphs">rADAMTS-13</text>
<text x="387.02" y="226.00" font-size="11.0" font-weight="bold" fill="#000" textLength="6.48" lengthAdjust="spacingAndGlyphs">F</text>
<text x="411.82" y="240.40" font-size="9.6" fill="#2e2e2e" textLength="66.93" lengthAdjust="spacingAndGlyphs">Uncleaved VWF</text>
<text x="412.11" y="279.40" font-size="9.6" fill="#2e2e2e" textLength="57.14" lengthAdjust="spacingAndGlyphs">Cleaved VWF</text>
<defs>
<filter id="blur1" x="-20%" y="-100%" width="140%" height="300%"><feGaussianBlur stdDeviation="0.55 0.5"/></filter>
<filter id="blur2" x="-20%" y="-100%" width="140%" height="300%"><feGaussianBlur stdDeviation="0.9 0.8"/></filter>
<linearGradient id="bg1" x1="0" y1="0" x2="0" y2="1"><stop offset="0" stop-color="#d8d8d8"/><stop offset="0.5" stop-color="#c6c6c6"/><stop offset="1" stop-color="#d2d2d2"/></linearGradient>
<linearGradient id="bg2" x1="0" y1="0" x2="0" y2="1"><stop offset="0" stop-color="#dedede"/><stop offset="0.5" stop-color="#c2c2c2"/><stop offset="1" stop-color="#dadada"/></linearGradient>
</defs>
<rect x="412.7" y="246.0" width="88.8" height="21.3" fill="url(#bg1)" stroke="#000" stroke-width="1.25"/>
<rect x="417.0" y="256.50" width="8.80" height="4.0" fill="#7a7a7a" opacity="0.6" filter="url(#blur2)" transform="rotate(7.00 421.40 255.90)"/>
<rect x="416.5" y="254.10" width="9.80" height="3.6" rx="1.4" fill="#080808" filter="url(#blur1)" transform="rotate(7.00 421.40 255.90)"/>
<rect x="430.2" y="257.60" width="9.00" height="4.0" fill="#7a7a7a" opacity="0.6" filter="url(#blur2)" transform="rotate(3.00 434.70 257.00)"/>
<rect x="429.7" y="255.30" width="10.00" height="3.4" rx="1.4" fill="#0c0c0c" filter="url(#blur1)" transform="rotate(3.00 434.70 257.00)"/>
<rect x="444.3" y="258.90" width="9.40" height="4.0" fill="#7a7a7a" opacity="0.6" filter="url(#blur2)" transform="rotate(2.00 449.00 258.30)"/>
<rect x="443.8" y="256.50" width="10.40" height="3.6" rx="1.4" fill="#080808" filter="url(#blur1)" transform="rotate(2.00 449.00 258.30)"/>
<rect x="458.5" y="259.50" width="9.30" height="4.0" fill="#7a7a7a" opacity="0.6" filter="url(#blur2)" transform="rotate(1.00 463.15 258.90)"/>
<rect x="458.0" y="257.20" width="10.30" height="3.4" rx="1.4" fill="#0e0e0e" filter="url(#blur1)" transform="rotate(1.00 463.15 258.90)"/>
<rect x="473.1" y="259.10" width="9.40" height="4.0" fill="#7a7a7a" opacity="0.6" filter="url(#blur2)" transform="rotate(-1.00 477.80 258.50)"/>
<rect x="472.6" y="256.90" width="10.40" height="3.2" rx="1.4" fill="#121212" filter="url(#blur1)" transform="rotate(-1.00 477.80 258.50)"/>
<rect x="487.3" y="257.90" width="9.20" height="4.0" fill="#7a7a7a" opacity="0.6" filter="url(#blur2)" transform="rotate(-4.00 491.90 257.30)"/>
<rect x="486.8" y="255.95" width="10.20" height="2.7" rx="1.4" fill="#1a1a1a" filter="url(#blur1)" transform="rotate(-4.00 491.90 257.30)"/>
<rect x="412.7" y="285.4" width="88.8" height="18.8" fill="url(#bg2)" stroke="#000" stroke-width="1.25"/>
<rect x="416.5" y="292.20" width="11.80" height="7.2" rx="2.5" fill="#8c8c8c" opacity="0.55" filter="url(#blur2)"/>
<rect x="417.3" y="293.70" width="10.20" height="4.2" rx="1.6" fill="#3c3c3c" filter="url(#blur2)"/>
<rect x="430.1" y="292.20" width="12.40" height="7.2" rx="2.5" fill="#8c8c8c" opacity="0.55" filter="url(#blur2)"/>
<rect x="430.90000000000003" y="293.70" width="10.80" height="4.2" rx="1.6" fill="#383838" filter="url(#blur2)"/>
<rect x="443.7" y="292.20" width="11.90" height="7.2" rx="2.5" fill="#8c8c8c" opacity="0.55" filter="url(#blur2)"/>
<rect x="444.5" y="293.70" width="10.30" height="4.2" rx="1.6" fill="#3c3c3c" filter="url(#blur2)"/>
<rect x="458.0" y="292.00" width="11.80" height="7.2" rx="2.5" fill="#8c8c8c" opacity="0.55" filter="url(#blur2)"/>
<rect x="458.8" y="293.50" width="10.20" height="4.2" rx="1.6" fill="#404040" filter="url(#blur2)"/>
<rect x="472.1" y="291.80" width="10.80" height="7.2" rx="2.5" fill="#8c8c8c" opacity="0.55" filter="url(#blur2)"/>
<rect x="472.90000000000003" y="293.20" width="9.20" height="4.4" rx="1.6" fill="#333" filter="url(#blur2)"/>
<rect x="484.8" y="291.20" width="13.80" height="7.2" rx="2.5" fill="#8c8c8c" opacity="0.55" filter="url(#blur2)"/>
<rect x="485.6" y="292.00" width="12.20" height="5.6" rx="1.6" fill="#111" filter="url(#blur2)"/>
<text x="416.89" y="314.70" font-size="8.6" fill="#2e2e2e" textLength="10.70" lengthAdjust="spacingAndGlyphs">BL</text>
<text x="434.39" y="314.70" font-size="8.6" fill="#2e2e2e" textLength="5.01" lengthAdjust="spacingAndGlyphs">3</text>
<text x="445.15" y="314.70" font-size="8.6" fill="#2e2e2e" textLength="9.71" lengthAdjust="spacingAndGlyphs">BL</text>
<text x="462.47" y="314.70" font-size="8.6" fill="#2e2e2e" textLength="5.24" lengthAdjust="spacingAndGlyphs">3</text>
<text x="472.46" y="314.70" font-size="8.6" fill="#2e2e2e" textLength="9.60" lengthAdjust="spacingAndGlyphs">BL</text>
<text x="489.67" y="314.70" font-size="8.6" fill="#2e2e2e" textLength="5.24" lengthAdjust="spacingAndGlyphs">3</text>
<line x1="417.20" y1="319.80" x2="441.80" y2="319.80" stroke="#111111" stroke-width="1.4"/>
<line x1="446.20" y1="319.80" x2="468.90" y2="319.80" stroke="#111111" stroke-width="1.4"/>
<line x1="472.30" y1="319.80" x2="497.70" y2="319.80" stroke="#111111" stroke-width="1.4"/>
<text x="420.74" y="330.80" font-size="8.4" fill="#2e2e2e" textLength="16.74" lengthAdjust="spacingAndGlyphs">FPI+</text>
<text x="421.97" y="340.20" font-size="8.4" fill="#2e2e2e" textLength="14.79" lengthAdjust="spacingAndGlyphs">PBS</text>
<text x="447.42" y="330.70" font-size="8.4" fill="#2e2e2e" textLength="20.75" lengthAdjust="spacingAndGlyphs">Sham</text>
<text x="476.32" y="330.80" font-size="8.4" fill="#2e2e2e" textLength="17.27" lengthAdjust="spacingAndGlyphs">FPI+</text>
<text x="460.31" y="340.80" font-size="8.4" fill="#2e2e2e" textLength="49.16" lengthAdjust="spacingAndGlyphs">rADAMTS-13</text>
<line x1="418.00" y1="349.90" x2="418.00" y2="427.10" stroke="#111111" stroke-width="1.4"/>
<line x1="415.00" y1="426.50" x2="418.00" y2="426.50" stroke="#111111" stroke-width="1.2"/>
<text x="400.89" y="429.40" font-size="8.4" stroke="#2e2e2e" stroke-width="0.12" fill="#2e2e2e" textLength="11.68" lengthAdjust="spacingAndGlyphs">0.0</text>
<line x1="415.00" y1="417.50" x2="418.00" y2="417.50" stroke="#111111" stroke-width="1.2"/>
<text x="400.89" y="420.25" font-size="8.4" stroke="#2e2e2e" stroke-width="0.12" fill="#2e2e2e" textLength="11.68" lengthAdjust="spacingAndGlyphs">0.5</text>
<line x1="415.00" y1="408.50" x2="418.00" y2="408.50" stroke="#111111" stroke-width="1.2"/>
<text x="400.89" y="411.10" font-size="8.4" stroke="#2e2e2e" stroke-width="0.12" fill="#2e2e2e" textLength="11.68" lengthAdjust="spacingAndGlyphs">1.0</text>
<line x1="415.00" y1="399.50" x2="418.00" y2="399.50" stroke="#111111" stroke-width="1.2"/>
<text x="400.89" y="401.95" font-size="8.4" stroke="#2e2e2e" stroke-width="0.12" fill="#2e2e2e" textLength="11.68" lengthAdjust="spacingAndGlyphs">1.5</text>
<line x1="415.00" y1="389.50" x2="418.00" y2="389.50" stroke="#111111" stroke-width="1.2"/>
<text x="400.89" y="392.80" font-size="8.4" stroke="#2e2e2e" stroke-width="0.12" fill="#2e2e2e" textLength="11.68" lengthAdjust="spacingAndGlyphs">2.0</text>
<line x1="415.00" y1="380.50" x2="418.00" y2="380.50" stroke="#111111" stroke-width="1.2"/>
<text x="400.89" y="383.65" font-size="8.4" stroke="#2e2e2e" stroke-width="0.12" fill="#2e2e2e" textLength="11.68" lengthAdjust="spacingAndGlyphs">2.5</text>
<line x1="415.00" y1="371.50" x2="418.00" y2="371.50" stroke="#111111" stroke-width="1.2"/>
<text x="400.89" y="374.50" font-size="8.4" stroke="#2e2e2e" stroke-width="0.12" fill="#2e2e2e" textLength="11.68" lengthAdjust="spacingAndGlyphs">3.0</text>
<line x1="415.00" y1="362.50" x2="418.00" y2="362.50" stroke="#111111" stroke-width="1.2"/>
<text x="400.89" y="365.35" font-size="8.4" stroke="#2e2e2e" stroke-width="0.12" fill="#2e2e2e" textLength="11.68" lengthAdjust="spacingAndGlyphs">3.5</text>
<line x1="415.00" y1="353.50" x2="418.00" y2="353.50" stroke="#111111" stroke-width="1.2"/>
<text x="400.89" y="356.20" font-size="8.4" stroke="#2e2e2e" stroke-width="0.12" fill="#2e2e2e" textLength="11.68" lengthAdjust="spacingAndGlyphs">4.0</text>
<line x1="415.70" y1="426.50" x2="500.50" y2="426.50" stroke="#111111" stroke-width="1.4"/>
<rect x="421.00" y="411.20" width="7.70" height="15.30" fill="#b3062f"/>
<line x1="424.50" y1="411.20" x2="424.50" y2="404.60" stroke="#1a1a1a" stroke-width="1.1"/>
<line x1="423.35" y1="404.90" x2="426.35" y2="404.90" stroke="#1a1a1a" stroke-width="1.4"/>
<rect x="430.90" y="403.10" width="7.90" height="23.40" fill="#2d4b88"/>
<line x1="434.50" y1="403.10" x2="434.50" y2="393.20" stroke="#1a1a1a" stroke-width="1.1"/>
<line x1="433.35" y1="393.50" x2="436.35" y2="393.50" stroke="#1a1a1a" stroke-width="1.4"/>
<rect x="448.70" y="413.30" width="8.30" height="13.20" fill="#b3062f"/>
<line x1="452.50" y1="413.30" x2="452.50" y2="409.20" stroke="#1a1a1a" stroke-width="1.1"/>
<line x1="451.35" y1="409.50" x2="454.35" y2="409.50" stroke="#1a1a1a" stroke-width="1.4"/>
<rect x="458.80" y="413.10" width="7.90" height="13.40" fill="#2d4b88"/>
<line x1="462.50" y1="413.10" x2="462.50" y2="408.20" stroke="#1a1a1a" stroke-width="1.1"/>
<line x1="461.25" y1="408.50" x2="464.25" y2="408.50" stroke="#1a1a1a" stroke-width="1.4"/>
<rect x="477.20" y="412.10" width="8.00" height="14.40" fill="#b3062f"/>
<line x1="481.50" y1="412.10" x2="481.50" y2="407.40" stroke="#1a1a1a" stroke-width="1.1"/>
<line x1="479.70" y1="407.70" x2="482.70" y2="407.70" stroke="#1a1a1a" stroke-width="1.4"/>
<rect x="486.90" y="381.30" width="7.90" height="45.20" fill="#2d4b88"/>
<line x1="490.50" y1="381.30" x2="490.50" y2="362.30" stroke="#1a1a1a" stroke-width="1.1"/>
<line x1="489.35" y1="362.60" x2="492.35" y2="362.60" stroke="#1a1a1a" stroke-width="1.4"/>
<line x1="415.70" y1="426.50" x2="500.50" y2="426.50" stroke="#111111" stroke-width="1.4"/>
<line x1="435.80" y1="351.50" x2="490.80" y2="351.50" stroke="#1a1a1a" stroke-width="1.2"/>
<circle cx="463.20" cy="348.10" r="1.1" fill="#1a1a1a"/>
<line x1="482.20" y1="359.50" x2="490.80" y2="359.50" stroke="#1a1a1a" stroke-width="1.2"/>
<circle cx="486.10" cy="356.50" r="1.1" fill="#1a1a1a"/>
<line x1="426.30" y1="391.50" x2="435.10" y2="391.50" stroke="#1a1a1a" stroke-width="1.2"/>
<circle cx="429.10" cy="387.30" r="1.0" fill="#1a1a1a"/>
<circle cx="432.70" cy="387.30" r="1.0" fill="#1a1a1a"/>
<text transform="translate(395.20,411.00) rotate(-90)" x="-0.59" y="0" font-size="9.2" fill="#2e2e2e" textLength="43.36" lengthAdjust="spacingAndGlyphs">Density ratio</text>
<text x="420.90" y="437.20" font-size="8.4" fill="#2e2e2e" textLength="18.01" lengthAdjust="spacingAndGlyphs">FPI+</text>
<text x="422.60" y="446.60" font-size="8.4" fill="#2e2e2e" textLength="13.95" lengthAdjust="spacingAndGlyphs">PBS</text>
<text x="447.51" y="437.00" font-size="8.4" fill="#2e2e2e" textLength="21.07" lengthAdjust="spacingAndGlyphs">Sham</text>
<text x="476.63" y="437.20" font-size="8.4" fill="#2e2e2e" textLength="17.05" lengthAdjust="spacingAndGlyphs">FPI+</text>
<text x="460.80" y="447.00" font-size="8.4" fill="#2e2e2e" textLength="49.67" lengthAdjust="spacingAndGlyphs">rADAMTS-13</text>
</svg>
</body></html>
